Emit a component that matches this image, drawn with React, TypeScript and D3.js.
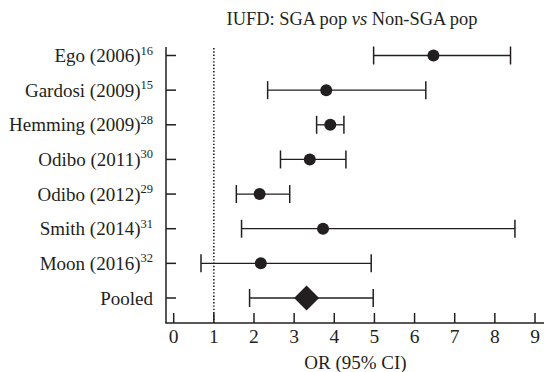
import React, { useRef, useEffect } from "react";
import * as d3 from "d3";

// studies, top to bottom
const studies = ["Ego (2006)", "Gardosi (2009)", "Hemming (2009)", "Odibo (2011)", "Odibo (2012)", "Smith (2014)", "Moon (2016)", "Pooled"];
const refs = ["16", "15", "28", "30", "29", "31", "32", ""];
const orValues = [6.47, 3.8, 3.9, 3.39, 2.14, 3.72, 2.17, 3.31];
const ciLow = [4.98, 2.34, 3.56, 2.66, 1.56, 1.69, 0.68, 1.89];
const ciHigh = [8.39, 6.28, 4.24, 4.29, 2.89, 8.5, 4.92, 4.97];
const xTicks = [0, 1, 2, 3, 4, 5, 6, 7, 8, 9];

const W = 544;
const H = 372;
const FONT = "'Liberation Serif', 'Times New Roman', serif";
const INK = "#231f20";

const App = () => {
  const ref = useRef<SVGSVGElement>(null);

  useEffect(() => {
    document.body.style.margin = "0";
    const svg = d3.select(ref.current);
    svg.selectAll("*").remove();

    const axisX = 166;
    const axisY = 323;
    const top = 47;

    const x = d3.scaleLinear().domain([0, 9]).range([173.7, 535]);
    const y = d3.scalePoint<string>().domain(studies).range([55.5, 298]);

    // title
    const title = svg
      .append("text")
      .attr("x", 352)
      .attr("y", 25)
      .attr("text-anchor", "middle")
      .style("font-family", FONT)
      .style("font-size", "18.4px")
      .attr("fill", INK);
    title.append("tspan").text("IUFD: SGA pop ");
    title.append("tspan").style("font-style", "italic").text("vs");
    title.append("tspan").text(" Non-SGA pop");

    // axes lines
    svg
      .append("line")
      .attr("x1", axisX)
      .attr("x2", axisX)
      .attr("y1", top)
      .attr("y2", axisY)
      .attr("stroke", INK)
      .attr("stroke-width", 1.5);
    svg
      .append("line")
      .attr("x1", axisX - 0.75)
      .attr("x2", W)
      .attr("y1", axisY)
      .attr("y2", axisY)
      .attr("stroke", INK)
      .attr("stroke-width", 1.5);

    // x ticks
    const xt = svg.append("g").selectAll("g").data(xTicks).enter().append("g");
    xt.append("line")
      .attr("x1", (d) => x(d))
      .attr("x2", (d) => x(d))
      .attr("y1", axisY)
      .attr("y2", axisY - 10)
      .attr("stroke", INK)
      .attr("stroke-width", 1.5);
    xt.append("text")
      .attr("x", (d) => x(d))
      .attr("y", 343)
      .attr("text-anchor", "middle")
      .style("font-family", FONT)
      .style("font-size", "19.5px")
      .attr("fill", INK)
      .text((d) => d);

    svg
      .append("text")
      .attr("x", 355.5)
      .attr("y", 369)
      .attr("text-anchor", "middle")
      .style("font-family", FONT)
      .style("font-size", "19px")
      .attr("fill", INK)
      .text("OR (95% CI)");

    // y ticks and labels
    studies.forEach((s, i) => {
      const yy = y(s) as number;
      svg
        .append("line")
        .attr("x1", axisX)
        .attr("x2", axisX + 10)
        .attr("y1", yy)
        .attr("y2", yy)
        .attr("stroke", INK)
        .attr("stroke-width", 1.5);
      const t = svg
        .append("text")
        .attr("x", 153)
        .attr("y", yy + 6.5)
        .attr("text-anchor", "end")
        .style("font-family", FONT)
        .style("font-size", "19px")
        .attr("fill", INK);
      t.append("tspan").text(s);
      if (refs[i]) {
        t.append("tspan").attr("dy", -7.5).style("font-size", "12.5px").text(refs[i]);
      }
    });

    // null line
    svg
      .append("line")
      .attr("x1", x(1))
      .attr("x2", x(1))
      .attr("y1", top + 1)
      .attr("y2", axisY)
      .attr("stroke", INK)
      .attr("stroke-width", 1.6)
      .attr("stroke-dasharray", "1.4 1.9");

    // error bars
    const rows = svg.append("g").selectAll("g").data(studies).enter().append("g");
    rows
      .append("line")
      .attr("x1", (_, i) => x(ciLow[i]))
      .attr("x2", (_, i) => x(ciHigh[i]))
      .attr("y1", (d) => y(d) as number)
      .attr("y2", (d) => y(d) as number)
      .attr("stroke", INK)
      .attr("stroke-width", 1.3);
    [ciLow, ciHigh].forEach((arr) => {
      rows
        .append("line")
        .attr("x1", (_, i) => x(arr[i]))
        .attr("x2", (_, i) => x(arr[i]))
        .attr("y1", (d) => (y(d) as number) - 9)
        .attr("y2", (d) => (y(d) as number) + 9)
        .attr("stroke", INK)
        .attr("stroke-width", 1.5);
    });

    rows
      .filter((d) => d !== "Pooled")
      .append("circle")
      .attr("cx", (d) => x(orValues[studies.indexOf(d)]))
      .attr("cy", (d) => y(d) as number)
      .attr("r", 6)
      .attr("fill", INK);

    const pi = studies.indexOf("Pooled");
    const px = x(orValues[pi]);
    const py = y("Pooled") as number;
    svg
      .append("path")
      .attr("d", `M${px - 12.5},${py} L${px},${py - 12.5} L${px + 12.5},${py} L${px},${py + 12.5} Z`)
      .attr("fill", INK);
  }, []);

  return <svg ref={ref} width={W} height={H} style={{ display: "block", background: "#fff" }} />;
};

export default App;
